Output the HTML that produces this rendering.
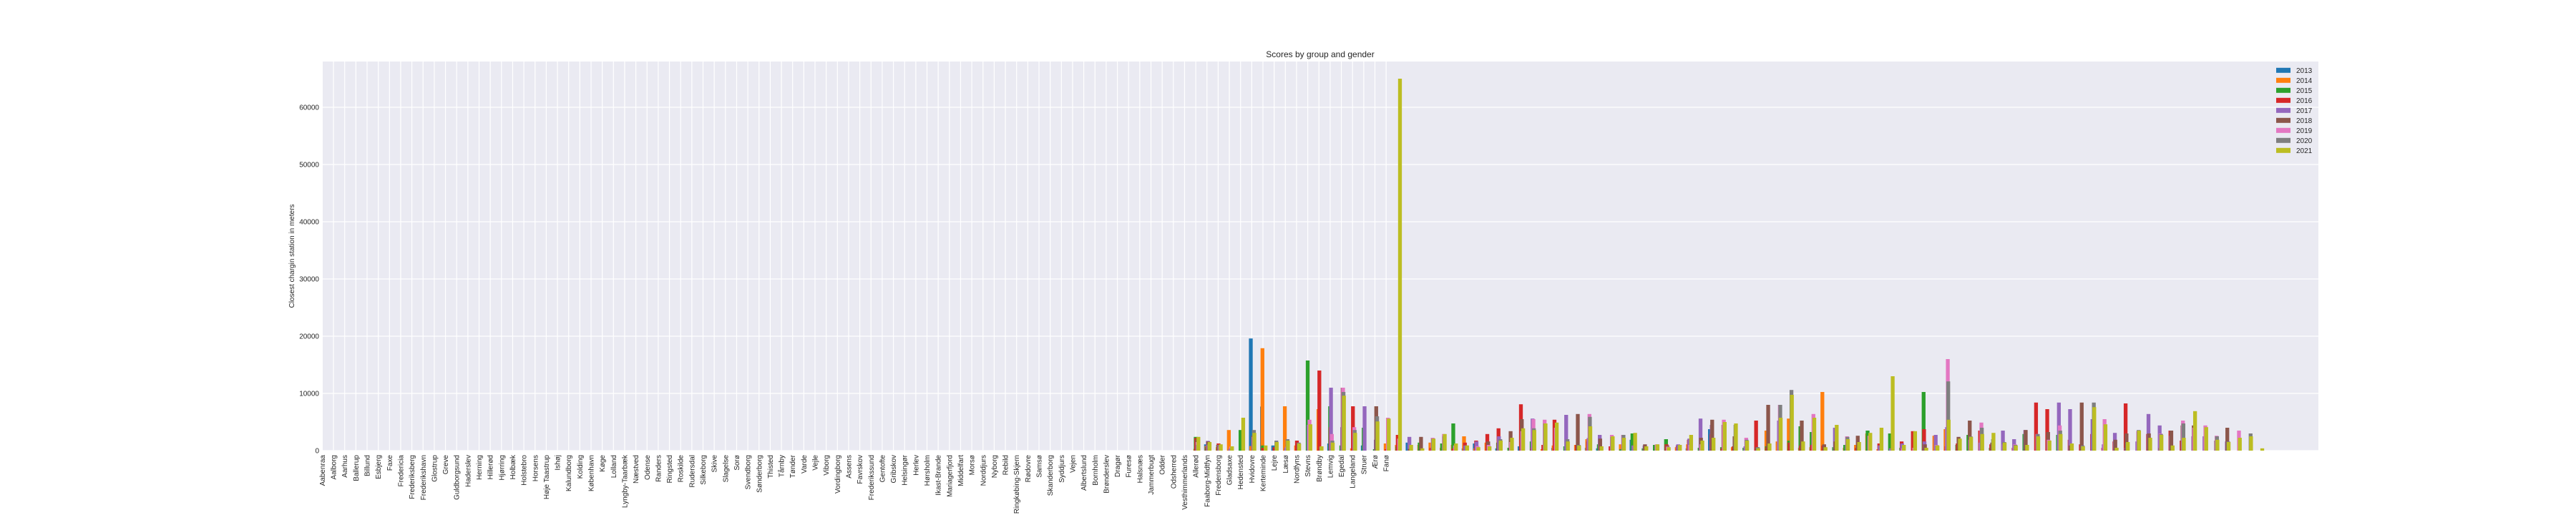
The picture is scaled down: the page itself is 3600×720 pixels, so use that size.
<!DOCTYPE html>
<html><head><meta charset="utf-8"><title>Scores by group and gender</title>
<style>
html,body{margin:0;padding:0;background:#fff;}
svg{display:block;font-family:"Liberation Sans","DejaVu Sans",sans-serif;}
</style></head>
<body>
<svg id="chart" width="3600" height="720" viewBox="0 0 3600 720" xmlns="http://www.w3.org/2000/svg">
<rect x="450.5" y="86" width="2789.5" height="544" fill="#eaeaf2"/>
<g id="grid"></g>
<g id="bars"></g>
<g id="xticks"></g>
<g id="yticks"></g>
<text x="1845" y="80" font-size="12" text-anchor="middle" fill="#262626">Scores by group and gender</text>
<text transform="translate(411,358) rotate(-90)" font-size="10" text-anchor="middle" fill="#262626">Closest chargin station in meters</text>
<g id="legend"></g>
</svg>
<script>
const categories = ["Aabenraa","Aalborg","Aarhus","Ballerup","Billund","Esbjerg","Faxe","Fredericia","Frederiksberg","Frederikshavn","Glostrup","Greve","Guldborgsund","Haderslev","Herning","Hillerød","Hjørring","Holbæk","Holstebro","Horsens","Høje Taastrup","Ishøj","Kalundborg","Kolding","København","Køge","Lolland","Lyngby-Taarbæk","Næstved","Odense","Randers","Ringsted","Roskilde","Rudersdal","Silkeborg","Skive","Slagelse","Sorø","Svendborg","Sønderborg","Thisted","Tårnby","Tønder","Varde","Vejle","Viborg","Vordingborg","Assens","Favrskov","Frederikssund","Gentofte","Gribskov","Helsingør","Herlev","Hørsholm","Ikast-Brande","Mariagerfjord","Middelfart","Morsø","Norddjurs","Nyborg","Rebild","Ringkøbing-Skjern","Rødovre","Samsø","Skanderborg","Syddjurs","Vejen","Albertslund","Bornholm","Brønderslev","Dragør","Furesø","Halsnæs","Jammerbugt","Odder","Odsherred","Vesthimmerlands","Allerød","Faaborg-Midtfyn","Fredensborg","Gladsaxe","Hedensted","Hvidovre","Kerteminde","Lejre","Læsø","Nordfyns","Stevns","Brøndby","Lemvig","Egedal","Langeland","Struer","Ærø","Fanø"];
const years = ["2013","2014","2015","2016","2017","2018","2019","2020","2021"];
const colors = ["#1f77b4","#ff7f0e","#2ca02c","#d62728","#9467bd","#8c564b","#e377c2","#7f7f7f","#bcbd22"];
const yTicks = [0,10000,20000,30000,40000,50000,60000];
const barOffset = 78;
const y2013 = [0,1100,0,0,0,19600,7700,900,0,0, 0,0,1250,0,0,900,0,0,0,1400, 0,0,0,0,400,1250,0,400,0,750, 0,0,500,0,0,500,400,0,0,1900, 0,0,0,0,400,0,3750,0,0,0, 0,0,0,0,0,0,0,0,0,0, 0,0,0,0,0,0,0,0,0,0, 0,0,0,0,0,0,0,0,0,0, 0,0,0,0,0,0,0,0,0,0, 0,0,0,0,0,0];
const y2014 = [300,800,600,3600,0,800,17900,0,7750,900, 0,7250,0,0,400,0,0,1250,1000,0, 1000,1400,500,1000,2500,400,1400,0,0,0, 0,250,900,0,1000,2000,0,0,1100,0, 0,0,0,600,1100,0,0,0,600,0, 0,3500,1600,5600,500,600,10250,0,500,1000, 3000,250,0,0,0,0,2600,3750,0,0, 0,0,0,0,0,0,0,0,0,0, 0,0,0,0,0,0,0,0,0,0, 0,0,0,0,0,0];
const y2015 = [2400,600,1000,0,3600,0,900,0,0,0, 15750,0,7750,900,0,4000,250,0,750,0, 1400,0,1250,4750,0,0,0,1400,500,0, 1600,0,0,750,0,0,1100,0,250,3000, 400,1000,2000,0,0,500,0,600,0,500, 0,750,0,1750,4250,3250,0,600,1000,0, 3500,0,3000,500,0,10250,0,0,1000,2750, 0,500,0,0,2900,0,0,2750,0,0, 0,0,0,0,0,0,0,0,0,0, 0,0,0,0,0,0];
const y2016 = [2200,700,1250,0,0,0,500,600,0,1750, 0,14000,4100,0,7750,0,0,250,2750,0, 0,500,0,400,1400,1750,2900,3900,0,8100, 500,1000,5400,0,1000,1600,0,750,0,0, 0,0,1100,900,1900,0,2900,400,750,0, 5250,600,0,1400,900,1000,900,0,0,500, 0,1250,0,1600,3400,3750,0,750,1250,0, 3500,1100,0,500,0,8400,7250,0,1900,1100, 2900,500,1600,8250,0,2900,0,3500,1750,0, 0,0,0,0,0,0];
const y2017 = [0,1700,1000,300,0,0,0,0,500,0, 4500,0,11000,4100,0,7750,1900,0,0,2400, 0,0,0,0,900,1600,0,2500,0,0, 5600,0,0,6250,0,2200,2750,0,0,900, 900,0,0,1100,2100,5600,4500,0,0,750, 0,0,5250,0,0,0,0,4000,0,0, 0,900,400,1250,0,1600,2750,4100,0,0, 1400,0,3500,2000,3600,0,0,8400,7250,0, 5500,1100,3100,500,1600,6400,4400,2600,0,2500, 2500,0,1600,0,0,0];
const y2018 = [2000,1600,900,0,0,2600,0,0,0,0, 0,0,0,11000,0,0,7750,0,0,300, 2400,0,0,0,0,0,1600,0,3400,5500, 0,0,0,0,6400,0,2100,0,0,0, 1100,0,900,0,0,2250,5400,4500,2500,0, 600,8000,0,0,5250,0,1100,1600,0,2600, 0,0,0,0,0,1100,0,0,2400,5250, 0,1400,0,0,3600,0,3250,0,900,8400, 0,0,1900,3000,0,3000,500,3500,4400,4400, 0,1750,4000,0,0,0];
const y2019 = [1500,1000,800,700,0,2400,0,0,700,0, 5400,0,2900,11000,4100,0,0,5750,2100,0, 0,2250,2900,900,0,800,1000,0,1500,3400, 5500,5400,4000,0,0,6400,0,2750,2750,0, 0,1100,700,0,1000,1100,0,5400,0,2250, 0,0,8000,0,0,6400,0,0,2500,0, 2600,0,0,400,500,0,1000,16000,0,1900, 4900,0,1100,1100,0,2900,1900,4400,0,0, 0,5500,0,0,3400,0,3000,0,5250,4000, 4400,2600,0,3500,0,0];
const y2020 = [1000,1200,1000,400,0,3600,0,1750,2000,1400, 0,700,1750,10250,3600,0,6000,0,0,0, 0,2100,2500,0,900,0,0,2000,0,0, 3900,4750,0,2000,1000,5900,0,2400,2750,0, 0,0,0,1000,0,0,0,0,4500,1900, 600,0,8000,10600,0,0,0,0,2400,0, 0,0,0,0,0,0,900,12100,0,2500, 4000,2000,1500,1000,0,2900,0,3500,0,900, 8400,0,0,1400,3600,0,2900,0,4750,0, 0,2500,1600,0,3000,0];
const y2021 = [2400,1500,1100,750,5750,3100,900,1500,1750,1250, 4600,750,1400,9600,3100,0,5100,5600,65000,1000, 400,2100,2900,1250,900,600,750,1750,2250,3900, 3600,4750,4900,1600,900,4250,750,2500,2250,3100, 750,1100,600,1000,2750,1750,2250,5000,4750,1750, 400,1250,5750,9750,1600,5750,600,4500,2000,1500, 3100,4000,13000,1000,3400,500,900,5400,2100,2400, 2900,3100,1400,900,1000,2500,1750,2900,1250,750, 7600,4600,500,1500,3500,2250,2750,900,2250,6900, 4100,1900,1500,2250,2500,400];
const series = [y2013,y2014,y2015,y2016,y2017,y2018,y2019,y2020,y2021];

const NS = "http://www.w3.org/2000/svg";
const PLOT_L = 450.5, PLOT_R = 3240, PLOT_T = 86, PLOT_B = 630;
const X0 = 450.4, XSTEP = 15.65;
function xScale(v){ return X0 + v * XSTEP; }
function yScale(v){ return PLOT_B - v * 0.008; }
function mk(tag, attrs, parent){
  const e = document.createElementNS(NS, tag);
  for (const k in attrs) e.setAttribute(k, attrs[k]);
  parent.appendChild(e);
  return e;
}
const grid = document.getElementById('grid');
yTicks.forEach(t => {
  const l = mk('line', {x1: PLOT_L, x2: PLOT_R, y1: yScale(t), y2: yScale(t), stroke: '#ffffff', 'stroke-width': 1.2}, grid);
  
  
});
categories.forEach((c, i) => {
  const l = mk('line', {x1: xScale(i), x2: xScale(i), y1: PLOT_T, y2: PLOT_B, stroke: '#ffffff', 'stroke-width': 1.2}, grid);
  
  
});
const bars = document.getElementById('bars');
const BW = 0.34, BSTEP = 0.04, BSTART = -0.255;
series.forEach((vals, k) => {
  vals.forEach((v, j) => {
    if (!v) return;
    const left = xScale(barOffset + j + BSTART + k * BSTEP);
    const w = BW * XSTEP;
    const top = Math.max(yScale(v), PLOT_T);
    const r = mk('rect', {x: left, y: top, width: w, height: PLOT_B - top, fill: colors[k]}, bars);
    
    
  });
});
const xt = document.getElementById('xticks');
categories.forEach((c, i) => {
  const t = mk('text', {transform: 'translate(' + xScale(i) + ',636) rotate(-90)', 'text-anchor': 'end', dy: '0.35em', 'font-size': 10, fill: '#262626'}, xt);
  t.textContent = c;
  
  
});
const yt = document.getElementById('yticks');
yTicks.forEach(v => {
  const t = mk('text', {x: 446, y: yScale(v) + 3.5, 'text-anchor': 'end', 'font-size': 10, fill: '#262626'}, yt);
  t.textContent = String(v);
  
  
});
const lg = document.getElementById('legend');
years.forEach((y, k) => {
  const cy = 98.3 + k * 14;
  const r = mk('rect', {x: 3181, y: cy - 3.5, width: 20, height: 7, fill: colors[k]}, lg);
  
  
  const t = mk('text', {x: 3209, y: cy + 3.6, 'font-size': 10, fill: '#262626'}, lg);
  t.textContent = y;
  
  
});
</script>
</body></html>
